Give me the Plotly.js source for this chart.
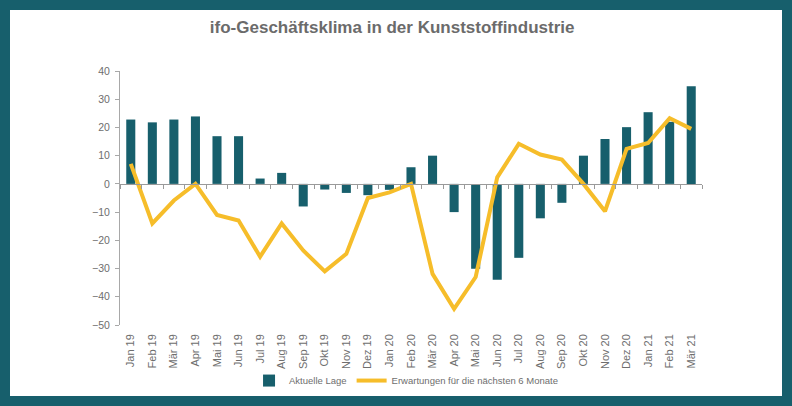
<!DOCTYPE html>
<html>
<head>
<meta charset="utf-8">
<script src="https://cdn.plot.ly/plotly-3.0.1.min.js"></script>
<style>
  html, body { margin: 0; padding: 0; background: #175f6c; width: 792px; height: 406px; overflow: hidden; }
  #chart { position: absolute; left: 10px; top: 10px; width: 772px; height: 386px; background: #fff; }
</style>
</head>
<body>
<div id="chart"></div>
<script>
// months Jan 19 .. Mär 21
var months = ['Jan 19','Feb 19','Mär 19','Apr 19','Mai 19','Jun 19','Jul 19','Aug 19','Sep 19','Okt 19','Nov 19','Dez 19',
              'Jan 20','Feb 20','Mär 20','Apr 20','Mai 20','Jun 20','Jul 20','Aug 20','Sep 20','Okt 20','Nov 20','Dez 20',
              'Jan 21','Feb 21','Mär 21'];
// Aktuelle Lage (bars)
var lage = [22.8, 21.8, 22.8, 23.9, 16.9, 16.9, 1.9, 3.9, -8, -2, -3.2, -4,
            -2.1, 5.9, 10, -10, -30.1, -34, -26.2, -12.2, -6.7, 10, 15.9, 20.1,
            25.4, 22, 34.6];
// Erwartungen fuer die naechsten 6 Monate (line)
var erwartungen = [7.1, -14, -5.9, 0, -11, -13, -25.8, -14, -23.6, -31, -24.8, -5,
                   -3, 0, -31.9, -44.3, -33, 2.3, 14.2, 10.4, 8.6, 0, -9.7, 12.4,
                   14.5, 23.3, 19.5];

var yMin = -50, yMax = 40;
var grey = '#6e6e6e';
var fnt = 'Liberation Sans, Arial, sans-serif';

var traces = [
  { type: 'bar', name: 'Aktuelle Lage', x: months, y: lage,
    marker: { color: '#175f6c' }, hoverinfo: 'x+y' },
  { type: 'scatter', mode: 'lines', name: 'Erwartungen für die nächsten 6 Monate',
    x: months, y: erwartungen, xaxis: 'x2', yaxis: 'y',
    line: { color: '#f6bd2a', width: 4 } }
];

var layout = {
  width: 772, height: 386,
  margin: { l: 110, r: 80, t: 61, b: 71, autoexpand: false },
  paper_bgcolor: '#fff', plot_bgcolor: '#fff',
  font: { family: fnt, color: grey, size: 10 },
  title: { text: '<b>ifo-Geschäftsklima in der Kunststoffindustrie</b>',
           x: 0.495, xanchor: 'center', y: 0.956, yanchor: 'middle',
           font: { family: fnt, size: 17, color: '#6b6b6b' } },
  bargap: 0.58,
  showlegend: true,
  legend: { orientation: 'h', xref: 'container', x: 0.513, xanchor: 'center',
            yref: 'container', y: 0.04, yanchor: 'middle', bgcolor: 'rgba(0,0,0,0)',
            font: { size: 9.5, color: grey }, itemwidth: 30, tracegroupgap: 0 },
  xaxis: { type: 'category', categoryarray: months, tickangle: -90, automargin: false,
           showline: false, ticks: '', showgrid: false, zeroline: false,
           ticklabelstandoff: 6, tickfont: { size: 11, color: grey } },
  // axis line at y=0 with ticks between months
  xaxis2: { type: 'category', matches: 'x', overlaying: 'x', anchor: 'free',
            position: (0 - yMin) / (yMax - yMin), automargin: false,
            showline: true, linecolor: '#9a9a9a', linewidth: 1,
            ticks: 'outside', tickson: 'boundaries', ticklen: 4, tickcolor: '#9a9a9a',
            showticklabels: false, showgrid: false, zeroline: false },
  yaxis: { range: [yMin, yMax], dtick: 10, showgrid: false, zeroline: false, automargin: false,
           showline: true, linecolor: '#a8a8a8', ticks: 'outside', ticklen: 4,
           ticklabelstandoff: 3,
           tickcolor: '#a8a8a8', tickfont: { size: 10.5, color: grey } }
};

Plotly.newPlot('chart', traces, layout, { displayModeBar: false, staticPlot: true });
</script>
</body>
</html>
